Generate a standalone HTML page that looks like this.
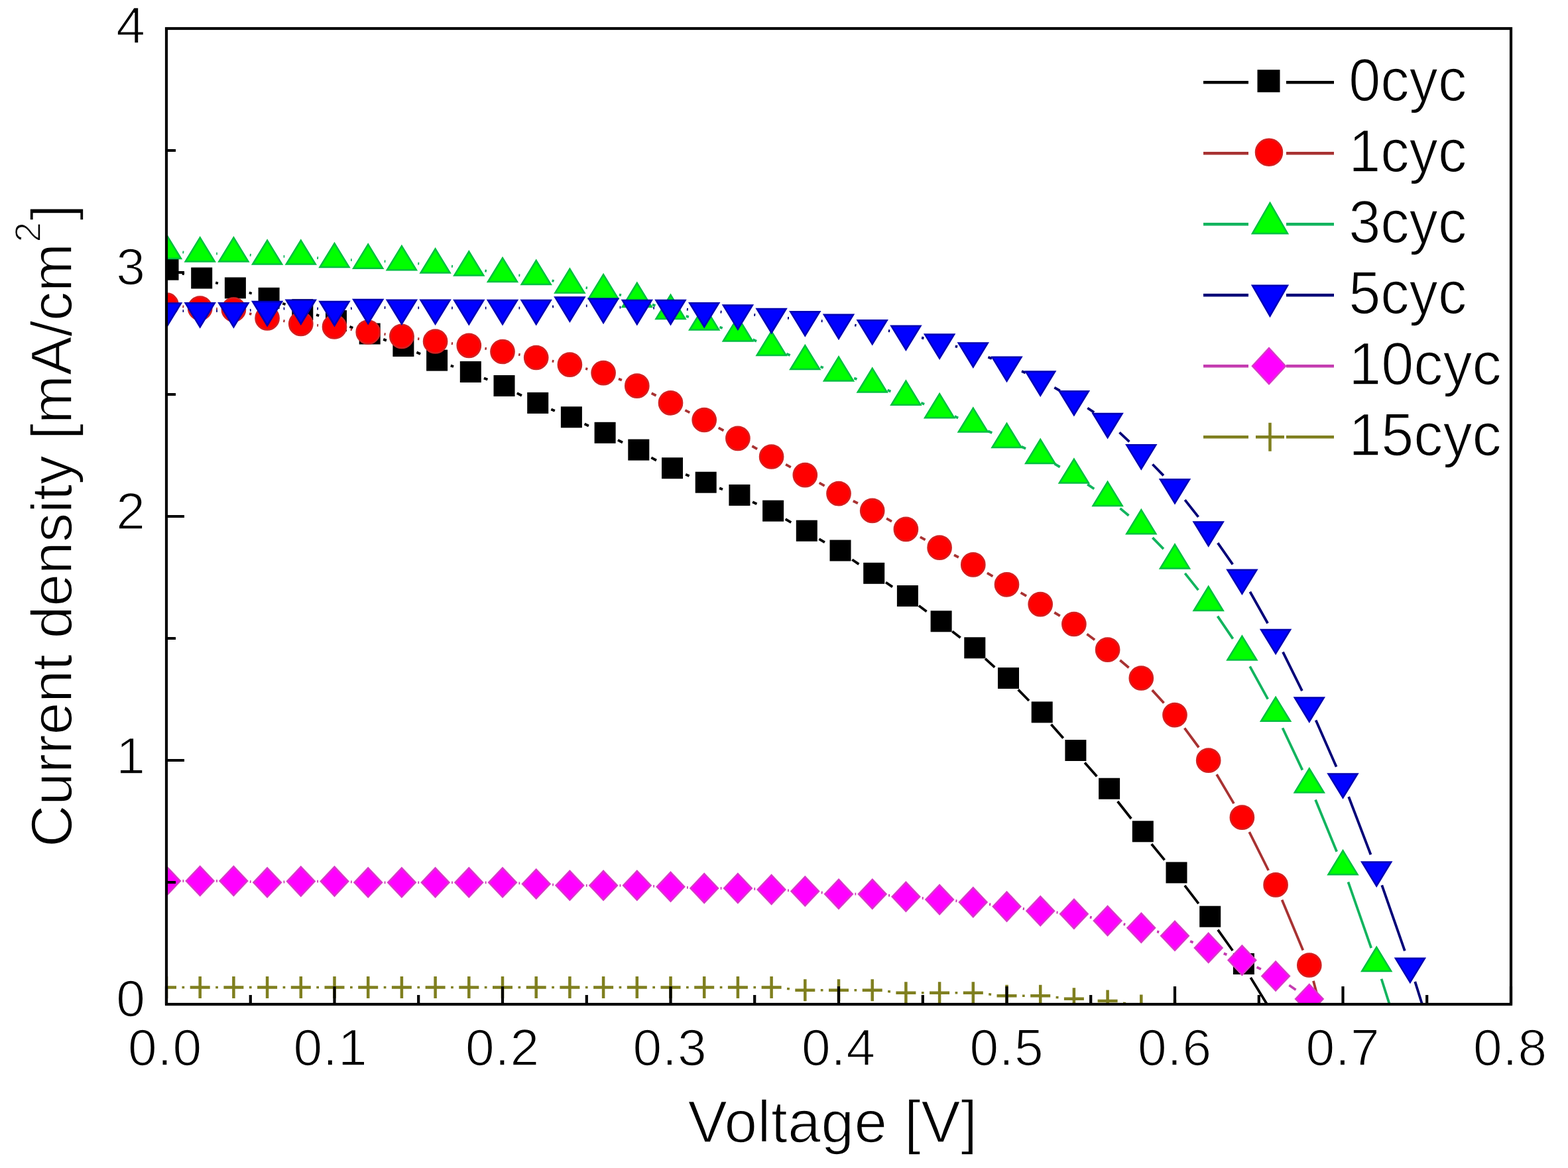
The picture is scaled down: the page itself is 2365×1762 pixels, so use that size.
<!DOCTYPE html><html><head><meta charset="utf-8"><title>J-V curves</title>
<style>html,body{margin:0;padding:0;background:#fff;}svg{display:block;}text{font-family:"Liberation Sans",Arial,sans-serif;fill:#000;stroke:#fff;stroke-width:1.6px;}</style></head><body>
<svg width="2365" height="1762" viewBox="0 0 2365 1762">
<rect width="2365" height="1762" fill="#ffffff"/>
<defs><clipPath id="pa"><rect x="251" y="43" width="2028" height="1472"/></clipPath></defs>
<g clip-path="url(#pa)">
<path d="M274.8 412.7L277.9 413.5M325.2 426.4L328.9 427.5M375.8 441.5L379.7 442.7M426.3 457.8L430.6 459.2M477.1 474.9L481.2 476.3M527.4 492.8L532.3 494.7M578.2 511.9L582.9 513.6M628.4 531.6L634.1 534M679.8 551.6L684.1 553M729.9 570.4L735.4 572.6M779.8 593.1L786.9 596.8M831.3 617.4L836.8 619.8M881.6 639.6L887.9 642.5M931.9 663.9L939 667.5M982.3 690.3L990 694.5M1034.1 715.8L1039.6 718.1M1085.1 736.4L1090 738.2M1135.1 757.3L1141.4 760.3M1184.7 783.2L1193.2 788.2M1235.4 813.1L1243.9 818.1M1285.3 844.2L1295.4 851.1M1336 878.5L1346.1 885.3M1385.9 913.8L1397.6 922.5M1436.3 952.5L1448.6 962.1M1486 993.7L1500.3 1006.6M1535.7 1040.4L1552 1057M1585.4 1092.8L1603.7 1113.6M1636.1 1150.4L1654.4 1171.3M1685.7 1209L1706.2 1235M1736.8 1273.3L1756.5 1297.4M1786.9 1335.9L1807.8 1363.2M1836.9 1402.7L1859.2 1434M1886.3 1474.8L1911.2 1515.2" fill="none" stroke="#000000" stroke-width="3.8" stroke-linecap="butt"/>
<rect x="237.5" y="390.7" width="32" height="32" fill="#000000"/>
<rect x="288.2" y="403.5" width="32" height="32" fill="#000000"/>
<rect x="338.9" y="418.4" width="32" height="32" fill="#000000"/>
<rect x="389.6" y="433.8" width="32" height="32" fill="#000000"/>
<rect x="440.3" y="451.2" width="32" height="32" fill="#000000"/>
<rect x="491" y="468" width="32" height="32" fill="#000000"/>
<rect x="541.7" y="487.5" width="32" height="32" fill="#000000"/>
<rect x="592.4" y="506" width="32" height="32" fill="#000000"/>
<rect x="643.1" y="527.6" width="32" height="32" fill="#000000"/>
<rect x="693.8" y="545" width="32" height="32" fill="#000000"/>
<rect x="744.5" y="566" width="32" height="32" fill="#000000"/>
<rect x="795.2" y="591.9" width="32" height="32" fill="#000000"/>
<rect x="845.9" y="613.3" width="32" height="32" fill="#000000"/>
<rect x="896.6" y="636.8" width="32" height="32" fill="#000000"/>
<rect x="947.3" y="662.6" width="32" height="32" fill="#000000"/>
<rect x="998" y="690.2" width="32" height="32" fill="#000000"/>
<rect x="1048.7" y="711.7" width="32" height="32" fill="#000000"/>
<rect x="1099.4" y="730.9" width="32" height="32" fill="#000000"/>
<rect x="1150.1" y="754.7" width="32" height="32" fill="#000000"/>
<rect x="1200.8" y="784.7" width="32" height="32" fill="#000000"/>
<rect x="1251.5" y="814.5" width="32" height="32" fill="#000000"/>
<rect x="1302.2" y="848.8" width="32" height="32" fill="#000000"/>
<rect x="1352.9" y="883" width="32" height="32" fill="#000000"/>
<rect x="1403.6" y="921.3" width="32" height="32" fill="#000000"/>
<rect x="1454.3" y="961.3" width="32" height="32" fill="#000000"/>
<rect x="1505" y="1007" width="32" height="32" fill="#000000"/>
<rect x="1555.7" y="1058.4" width="32" height="32" fill="#000000"/>
<rect x="1606.4" y="1116" width="32" height="32" fill="#000000"/>
<rect x="1657.1" y="1173.7" width="32" height="32" fill="#000000"/>
<rect x="1707.8" y="1238.3" width="32" height="32" fill="#000000"/>
<rect x="1758.5" y="1300.4" width="32" height="32" fill="#000000"/>
<rect x="1809.2" y="1366.7" width="32" height="32" fill="#000000"/>
<rect x="1859.9" y="1438" width="32" height="32" fill="#000000"/>
<rect x="1910.6" y="1520" width="32" height="32" fill="#000000"/>
<path d="M275.4 462.4L277.3 462.6M326.2 466L327.9 466M376.1 473.1L379.4 473.9M427.3 484.1L429.6 484.4M478.2 490.7L480.1 490.8M528.7 496.8L531 497.2M579.5 504L581.6 504.3M630.1 511L632.4 511.3M680.9 518L683 518.3M731.4 525.7L733.9 526.1M782.1 534.8L784.6 535.2M832.7 544.6L835.4 545.1M883.2 556L886.3 556.8M933 571.4L937.9 573.4M982.7 593.2L989.6 596.8M1033.4 618.9L1040.3 622.4M1083.7 645.3L1091.4 649.5M1134.4 673L1142.1 677.3M1185.1 700.7L1192.8 704.9M1235.7 728.4L1243.6 732.8M1286.8 755.7L1293.9 759.3M1337.1 782.2L1345 786.6M1387.9 810.2L1395.6 814.4M1439 837.3L1445.9 840.8M1488.9 864.3L1497.4 869.4M1539.6 894.2L1548.1 899.2M1590.3 924L1598.8 929.1M1639.4 956.4L1651.1 965.3M1689.3 996L1702.6 1007.2M1737.8 1041.1L1755.5 1060.5M1786.6 1098.3L1808.1 1127.5M1835.1 1168.3L1861 1212.1M1884.3 1255.1L1913.2 1313M1933.6 1357.5L1965.3 1433.4M1981 1479.7L2019.3 1626.3" fill="none" stroke="#a83232" stroke-width="3.8" stroke-linecap="butt"/>
<circle cx="251" cy="460" r="17.6" fill="#ff0000" stroke="#d42020" stroke-width="2.5"/>
<circle cx="301.7" cy="465" r="17.6" fill="#ff0000" stroke="#d42020" stroke-width="2.5"/>
<circle cx="352.4" cy="467" r="17.6" fill="#ff0000" stroke="#d42020" stroke-width="2.5"/>
<circle cx="403.1" cy="480" r="17.6" fill="#ff0000" stroke="#d42020" stroke-width="2.5"/>
<circle cx="453.8" cy="488.5" r="17.6" fill="#ff0000" stroke="#d42020" stroke-width="2.5"/>
<circle cx="504.5" cy="493" r="17.6" fill="#ff0000" stroke="#d42020" stroke-width="2.5"/>
<circle cx="555.2" cy="501" r="17.6" fill="#ff0000" stroke="#d42020" stroke-width="2.5"/>
<circle cx="605.9" cy="507.3" r="17.6" fill="#ff0000" stroke="#d42020" stroke-width="2.5"/>
<circle cx="656.6" cy="515" r="17.6" fill="#ff0000" stroke="#d42020" stroke-width="2.5"/>
<circle cx="707.3" cy="521.3" r="17.6" fill="#ff0000" stroke="#d42020" stroke-width="2.5"/>
<circle cx="758" cy="530.5" r="17.6" fill="#ff0000" stroke="#d42020" stroke-width="2.5"/>
<circle cx="808.7" cy="539.5" r="17.6" fill="#ff0000" stroke="#d42020" stroke-width="2.5"/>
<circle cx="859.4" cy="550.2" r="17.6" fill="#ff0000" stroke="#d42020" stroke-width="2.5"/>
<circle cx="910.1" cy="562.6" r="17.6" fill="#ff0000" stroke="#d42020" stroke-width="2.5"/>
<circle cx="960.8" cy="582.2" r="17.6" fill="#ff0000" stroke="#d42020" stroke-width="2.5"/>
<circle cx="1011.5" cy="607.8" r="17.6" fill="#ff0000" stroke="#d42020" stroke-width="2.5"/>
<circle cx="1062.2" cy="633.5" r="17.6" fill="#ff0000" stroke="#d42020" stroke-width="2.5"/>
<circle cx="1112.9" cy="661.3" r="17.6" fill="#ff0000" stroke="#d42020" stroke-width="2.5"/>
<circle cx="1163.6" cy="689" r="17.6" fill="#ff0000" stroke="#d42020" stroke-width="2.5"/>
<circle cx="1214.3" cy="716.6" r="17.6" fill="#ff0000" stroke="#d42020" stroke-width="2.5"/>
<circle cx="1265" cy="744.6" r="17.6" fill="#ff0000" stroke="#d42020" stroke-width="2.5"/>
<circle cx="1315.7" cy="770.4" r="17.6" fill="#ff0000" stroke="#d42020" stroke-width="2.5"/>
<circle cx="1366.4" cy="798.4" r="17.6" fill="#ff0000" stroke="#d42020" stroke-width="2.5"/>
<circle cx="1417.1" cy="826.2" r="17.6" fill="#ff0000" stroke="#d42020" stroke-width="2.5"/>
<circle cx="1467.8" cy="851.9" r="17.6" fill="#ff0000" stroke="#d42020" stroke-width="2.5"/>
<circle cx="1518.5" cy="881.8" r="17.6" fill="#ff0000" stroke="#d42020" stroke-width="2.5"/>
<circle cx="1569.2" cy="911.6" r="17.6" fill="#ff0000" stroke="#d42020" stroke-width="2.5"/>
<circle cx="1619.9" cy="941.5" r="17.6" fill="#ff0000" stroke="#d42020" stroke-width="2.5"/>
<circle cx="1670.6" cy="980.2" r="17.6" fill="#ff0000" stroke="#d42020" stroke-width="2.5"/>
<circle cx="1721.3" cy="1023" r="17.6" fill="#ff0000" stroke="#d42020" stroke-width="2.5"/>
<circle cx="1772" cy="1078.6" r="17.6" fill="#ff0000" stroke="#d42020" stroke-width="2.5"/>
<circle cx="1822.7" cy="1147.2" r="17.6" fill="#ff0000" stroke="#d42020" stroke-width="2.5"/>
<circle cx="1873.4" cy="1233.2" r="17.6" fill="#ff0000" stroke="#d42020" stroke-width="2.5"/>
<circle cx="1924.1" cy="1334.9" r="17.6" fill="#ff0000" stroke="#d42020" stroke-width="2.5"/>
<circle cx="1974.8" cy="1456" r="17.6" fill="#ff0000" stroke="#d42020" stroke-width="2.5"/>
<circle cx="2025.5" cy="1650" r="17.6" fill="#ff0000" stroke="#d42020" stroke-width="2.5"/>
<path d="M275.4 380.4L277.3 380.6M326.2 382.7L327.9 382.7M376.8 384.7L378.7 384.9M427.6 386.9L429.3 386.9M478.2 389.1L480.1 389.2M529 392.2L530.7 392.2M579.7 394.2L581.4 394.3M630.3 397.6L632.2 397.7M681 401.7L682.9 401.9M731.4 408.4L733.9 408.8M782.4 415.3L784.3 415.4M832.5 423.3L835.6 424M883.6 434.1L885.9 434.4M933.9 444.5L937 445.3M983.9 459.5L988.4 461.1M1034.8 476.9L1038.9 478.2M1085.4 493.5L1089.7 495M1135.4 512.3L1141.1 514.7M1186.2 533.7L1191.7 536M1237.5 553.3L1241.8 554.8M1288.2 570.6L1292.5 572M1338.6 588.5L1343.5 590.4M1389.3 607.8L1394.2 609.7M1439.7 628L1445.2 630.4M1490 650.2L1496.3 653M1540.6 673.8L1547.1 676.8M1590.4 699.7L1598.7 704.5M1640.2 730.6L1650.3 737.5M1689.4 766.9L1702.5 777.8M1738.4 811.1L1754.9 828.1M1787.3 864.9L1807.4 890.1M1836.5 929.6L1859.6 963.6M1885.2 1005.4L1912.3 1054.6M1934.5 1098.3L1964.4 1161.6M1984.1 1206.5L2016.2 1284.8M2033.5 1330.6L2068.2 1430.2M2083.6 1476.7L2119.5 1589.9" fill="none" stroke="#12b45e" stroke-width="3.8" stroke-linecap="butt"/>
<polygon points="251,354 273,390 229,390" fill="#00ff00" stroke="#00c040" stroke-width="2.5" stroke-linejoin="miter"/>
<polygon points="301.7,358.4 323.7,394.4 279.7,394.4" fill="#00ff00" stroke="#00c040" stroke-width="2.5" stroke-linejoin="miter"/>
<polygon points="352.4,358.4 374.4,394.4 330.4,394.4" fill="#00ff00" stroke="#00c040" stroke-width="2.5" stroke-linejoin="miter"/>
<polygon points="403.1,362.6 425.1,398.6 381.1,398.6" fill="#00ff00" stroke="#00c040" stroke-width="2.5" stroke-linejoin="miter"/>
<polygon points="453.8,362.6 475.8,398.6 431.8,398.6" fill="#00ff00" stroke="#00c040" stroke-width="2.5" stroke-linejoin="miter"/>
<polygon points="504.5,367.1 526.5,403.1 482.5,403.1" fill="#00ff00" stroke="#00c040" stroke-width="2.5" stroke-linejoin="miter"/>
<polygon points="555.2,368.7 577.2,404.7 533.2,404.7" fill="#00ff00" stroke="#00c040" stroke-width="2.5" stroke-linejoin="miter"/>
<polygon points="605.9,371.2 627.9,407.2 583.9,407.2" fill="#00ff00" stroke="#00c040" stroke-width="2.5" stroke-linejoin="miter"/>
<polygon points="656.6,375.5 678.6,411.5 634.6,411.5" fill="#00ff00" stroke="#00c040" stroke-width="2.5" stroke-linejoin="miter"/>
<polygon points="707.3,379.5 729.3,415.5 685.3,415.5" fill="#00ff00" stroke="#00c040" stroke-width="2.5" stroke-linejoin="miter"/>
<polygon points="758,389.1 780,425.1 736,425.1" fill="#00ff00" stroke="#00c040" stroke-width="2.5" stroke-linejoin="miter"/>
<polygon points="808.7,393 830.7,429 786.7,429" fill="#00ff00" stroke="#00c040" stroke-width="2.5" stroke-linejoin="miter"/>
<polygon points="859.4,405.7 881.4,441.7 837.4,441.7" fill="#00ff00" stroke="#00c040" stroke-width="2.5" stroke-linejoin="miter"/>
<polygon points="910.1,414.2 932.1,450.2 888.1,450.2" fill="#00ff00" stroke="#00c040" stroke-width="2.5" stroke-linejoin="miter"/>
<polygon points="960.8,427 982.8,463 938.8,463" fill="#00ff00" stroke="#00c040" stroke-width="2.5" stroke-linejoin="miter"/>
<polygon points="1011.5,445 1033.5,481 989.5,481" fill="#00ff00" stroke="#00c040" stroke-width="2.5" stroke-linejoin="miter"/>
<polygon points="1062.2,461.5 1084.2,497.5 1040.2,497.5" fill="#00ff00" stroke="#00c040" stroke-width="2.5" stroke-linejoin="miter"/>
<polygon points="1112.9,478.4 1134.9,514.4 1090.9,514.4" fill="#00ff00" stroke="#00c040" stroke-width="2.5" stroke-linejoin="miter"/>
<polygon points="1163.6,500 1185.6,536 1141.6,536" fill="#00ff00" stroke="#00c040" stroke-width="2.5" stroke-linejoin="miter"/>
<polygon points="1214.3,521.1 1236.3,557.1 1192.3,557.1" fill="#00ff00" stroke="#00c040" stroke-width="2.5" stroke-linejoin="miter"/>
<polygon points="1265,538.4 1287,574.4 1243,574.4" fill="#00ff00" stroke="#00c040" stroke-width="2.5" stroke-linejoin="miter"/>
<polygon points="1315.7,555.6 1337.7,591.6 1293.7,591.6" fill="#00ff00" stroke="#00c040" stroke-width="2.5" stroke-linejoin="miter"/>
<polygon points="1366.4,574.7 1388.4,610.7 1344.4,610.7" fill="#00ff00" stroke="#00c040" stroke-width="2.5" stroke-linejoin="miter"/>
<polygon points="1417.1,594.2 1439.1,630.2 1395.1,630.2" fill="#00ff00" stroke="#00c040" stroke-width="2.5" stroke-linejoin="miter"/>
<polygon points="1467.8,615.6 1489.8,651.6 1445.8,651.6" fill="#00ff00" stroke="#00c040" stroke-width="2.5" stroke-linejoin="miter"/>
<polygon points="1518.5,639 1540.5,675 1496.5,675" fill="#00ff00" stroke="#00c040" stroke-width="2.5" stroke-linejoin="miter"/>
<polygon points="1569.2,663 1591.2,699 1547.2,699" fill="#00ff00" stroke="#00c040" stroke-width="2.5" stroke-linejoin="miter"/>
<polygon points="1619.9,692.6 1641.9,728.6 1597.9,728.6" fill="#00ff00" stroke="#00c040" stroke-width="2.5" stroke-linejoin="miter"/>
<polygon points="1670.6,726.9 1692.6,762.9 1648.6,762.9" fill="#00ff00" stroke="#00c040" stroke-width="2.5" stroke-linejoin="miter"/>
<polygon points="1721.3,769.2 1743.3,805.2 1699.3,805.2" fill="#00ff00" stroke="#00c040" stroke-width="2.5" stroke-linejoin="miter"/>
<polygon points="1772,821.4 1794,857.4 1750,857.4" fill="#00ff00" stroke="#00c040" stroke-width="2.5" stroke-linejoin="miter"/>
<polygon points="1822.7,885 1844.7,921 1800.7,921" fill="#00ff00" stroke="#00c040" stroke-width="2.5" stroke-linejoin="miter"/>
<polygon points="1873.4,959.6 1895.4,995.6 1851.4,995.6" fill="#00ff00" stroke="#00c040" stroke-width="2.5" stroke-linejoin="miter"/>
<polygon points="1924.1,1051.8 1946.1,1087.8 1902.1,1087.8" fill="#00ff00" stroke="#00c040" stroke-width="2.5" stroke-linejoin="miter"/>
<polygon points="1974.8,1159.5 1996.8,1195.5 1952.8,1195.5" fill="#00ff00" stroke="#00c040" stroke-width="2.5" stroke-linejoin="miter"/>
<polygon points="2025.5,1283.2 2047.5,1319.2 2003.5,1319.2" fill="#00ff00" stroke="#00c040" stroke-width="2.5" stroke-linejoin="miter"/>
<polygon points="2076.2,1429 2098.2,1465 2054.2,1465" fill="#00ff00" stroke="#00c040" stroke-width="2.5" stroke-linejoin="miter"/>
<polygon points="2126.9,1589 2148.9,1625 2104.9,1625" fill="#00ff00" stroke="#00c040" stroke-width="2.5" stroke-linejoin="miter"/>
<path d="M275.5 469.1L277.2 469.1M326.2 469L327.9 469M376.9 467.9L378.6 467.8M427.6 465.6L429.3 465.5M478.3 465.5L480 465.6M529 465.3L530.7 465.1M579.7 464L581.4 464.1M630.4 464.4L632.1 464.4M681.1 464.5L682.8 464.6M731.8 464.7L733.5 464.7M782.5 464.7L784.2 464.7M833.1 462.6L835 462.4M883.9 461.4L885.6 461.4M934.6 463.6L936.3 463.6M985.3 464.7L987 464.7M1035.9 466.7L1037.8 466.9M1086.6 470.5L1088.5 470.7M1137.3 474.9L1139.2 475.1M1188 479.8L1189.9 479.9M1238.7 484.2L1240.6 484.3M1289.2 490.5L1291.5 490.9M1339.9 499L1342.2 499.3M1390.1 509.4L1393.4 510.3M1440.8 522.4L1444.1 523.2M1490.4 538.8L1495.9 541M1541 560.1L1546.7 562.6M1590.3 584.6L1598.8 589.5M1640.3 615.5L1650.2 622.1M1688.5 652.4L1703.4 666.3M1738.4 700.5L1754.9 717.4M1787.2 754.1L1807.5 779.9M1836.8 819.2L1859.3 851.3M1885.4 892.8L1912.1 940.2M1935 983.6L1963.9 1042.2M1984.7 1086.6L2015.6 1156.7M2034.2 1202L2067.5 1289.3M2084.3 1335.3L2118.8 1434.4M2134.3 1480.9L2170.2 1595.3" fill="none" stroke="#000078" stroke-width="3.8" stroke-linecap="butt"/>
<polygon points="229,457.5 273,457.5 251,493.5" fill="#0000ff" stroke="#0000b4" stroke-width="2.5" stroke-linejoin="miter"/>
<polygon points="279.7,457.3 323.7,457.3 301.7,493.3" fill="#0000ff" stroke="#0000b4" stroke-width="2.5" stroke-linejoin="miter"/>
<polygon points="330.4,457.3 374.4,457.3 352.4,493.3" fill="#0000ff" stroke="#0000b4" stroke-width="2.5" stroke-linejoin="miter"/>
<polygon points="381.1,455 425.1,455 403.1,491" fill="#0000ff" stroke="#0000b4" stroke-width="2.5" stroke-linejoin="miter"/>
<polygon points="431.8,452.7 475.8,452.7 453.8,488.7" fill="#0000ff" stroke="#0000b4" stroke-width="2.5" stroke-linejoin="miter"/>
<polygon points="482.5,455 526.5,455 504.5,491" fill="#0000ff" stroke="#0000b4" stroke-width="2.5" stroke-linejoin="miter"/>
<polygon points="533.2,452 577.2,452 555.2,488" fill="#0000ff" stroke="#0000b4" stroke-width="2.5" stroke-linejoin="miter"/>
<polygon points="583.9,452.7 627.9,452.7 605.9,488.7" fill="#0000ff" stroke="#0000b4" stroke-width="2.5" stroke-linejoin="miter"/>
<polygon points="634.6,452.7 678.6,452.7 656.6,488.7" fill="#0000ff" stroke="#0000b4" stroke-width="2.5" stroke-linejoin="miter"/>
<polygon points="685.3,453 729.3,453 707.3,489" fill="#0000ff" stroke="#0000b4" stroke-width="2.5" stroke-linejoin="miter"/>
<polygon points="736,453 780,453 758,489" fill="#0000ff" stroke="#0000b4" stroke-width="2.5" stroke-linejoin="miter"/>
<polygon points="786.7,453 830.7,453 808.7,489" fill="#0000ff" stroke="#0000b4" stroke-width="2.5" stroke-linejoin="miter"/>
<polygon points="837.4,448.6 881.4,448.6 859.4,484.6" fill="#0000ff" stroke="#0000b4" stroke-width="2.5" stroke-linejoin="miter"/>
<polygon points="888.1,450.8 932.1,450.8 910.1,486.8" fill="#0000ff" stroke="#0000b4" stroke-width="2.5" stroke-linejoin="miter"/>
<polygon points="938.8,453 982.8,453 960.8,489" fill="#0000ff" stroke="#0000b4" stroke-width="2.5" stroke-linejoin="miter"/>
<polygon points="989.5,453 1033.5,453 1011.5,489" fill="#0000ff" stroke="#0000b4" stroke-width="2.5" stroke-linejoin="miter"/>
<polygon points="1040.2,457.2 1084.2,457.2 1062.2,493.2" fill="#0000ff" stroke="#0000b4" stroke-width="2.5" stroke-linejoin="miter"/>
<polygon points="1090.9,460.6 1134.9,460.6 1112.9,496.6" fill="#0000ff" stroke="#0000b4" stroke-width="2.5" stroke-linejoin="miter"/>
<polygon points="1141.6,466 1185.6,466 1163.6,502" fill="#0000ff" stroke="#0000b4" stroke-width="2.5" stroke-linejoin="miter"/>
<polygon points="1192.3,470.3 1236.3,470.3 1214.3,506.3" fill="#0000ff" stroke="#0000b4" stroke-width="2.5" stroke-linejoin="miter"/>
<polygon points="1243,474.8 1287,474.8 1265,510.8" fill="#0000ff" stroke="#0000b4" stroke-width="2.5" stroke-linejoin="miter"/>
<polygon points="1293.7,483.2 1337.7,483.2 1315.7,519.2" fill="#0000ff" stroke="#0000b4" stroke-width="2.5" stroke-linejoin="miter"/>
<polygon points="1344.4,491.7 1388.4,491.7 1366.4,527.7" fill="#0000ff" stroke="#0000b4" stroke-width="2.5" stroke-linejoin="miter"/>
<polygon points="1395.1,504.6 1439.1,504.6 1417.1,540.6" fill="#0000ff" stroke="#0000b4" stroke-width="2.5" stroke-linejoin="miter"/>
<polygon points="1445.8,517.6 1489.8,517.6 1467.8,553.6" fill="#0000ff" stroke="#0000b4" stroke-width="2.5" stroke-linejoin="miter"/>
<polygon points="1496.5,538.8 1540.5,538.8 1518.5,574.8" fill="#0000ff" stroke="#0000b4" stroke-width="2.5" stroke-linejoin="miter"/>
<polygon points="1547.2,560.5 1591.2,560.5 1569.2,596.5" fill="#0000ff" stroke="#0000b4" stroke-width="2.5" stroke-linejoin="miter"/>
<polygon points="1597.9,590.2 1641.9,590.2 1619.9,626.2" fill="#0000ff" stroke="#0000b4" stroke-width="2.5" stroke-linejoin="miter"/>
<polygon points="1648.6,624 1692.6,624 1670.6,660" fill="#0000ff" stroke="#0000b4" stroke-width="2.5" stroke-linejoin="miter"/>
<polygon points="1699.3,671.3 1743.3,671.3 1721.3,707.3" fill="#0000ff" stroke="#0000b4" stroke-width="2.5" stroke-linejoin="miter"/>
<polygon points="1750,723.2 1794,723.2 1772,759.2" fill="#0000ff" stroke="#0000b4" stroke-width="2.5" stroke-linejoin="miter"/>
<polygon points="1800.7,787.4 1844.7,787.4 1822.7,823.4" fill="#0000ff" stroke="#0000b4" stroke-width="2.5" stroke-linejoin="miter"/>
<polygon points="1851.4,859.7 1895.4,859.7 1873.4,895.7" fill="#0000ff" stroke="#0000b4" stroke-width="2.5" stroke-linejoin="miter"/>
<polygon points="1902.1,949.9 1946.1,949.9 1924.1,985.9" fill="#0000ff" stroke="#0000b4" stroke-width="2.5" stroke-linejoin="miter"/>
<polygon points="1952.8,1052.5 1996.8,1052.5 1974.8,1088.5" fill="#0000ff" stroke="#0000b4" stroke-width="2.5" stroke-linejoin="miter"/>
<polygon points="2003.5,1167.4 2047.5,1167.4 2025.5,1203.4" fill="#0000ff" stroke="#0000b4" stroke-width="2.5" stroke-linejoin="miter"/>
<polygon points="2054.2,1300.5 2098.2,1300.5 2076.2,1336.5" fill="#0000ff" stroke="#0000b4" stroke-width="2.5" stroke-linejoin="miter"/>
<polygon points="2104.9,1445.8 2148.9,1445.8 2126.9,1481.8" fill="#0000ff" stroke="#0000b4" stroke-width="2.5" stroke-linejoin="miter"/>
<polygon points="2155.6,1607 2199.6,1607 2177.6,1643" fill="#0000ff" stroke="#0000b4" stroke-width="2.5" stroke-linejoin="miter"/>
<path d="M275.5 1329L277.2 1329M326.2 1329L327.9 1329M376.9 1330.1L378.6 1330.2M427.6 1330.5L429.3 1330.4M478.3 1329.6L480 1329.6M529 1330.4L530.7 1330.5M579.7 1331.3L581.4 1331.3M630.4 1331.3L632.1 1331.3M681.1 1331.3L682.8 1331.3M731.8 1331.3L733.5 1331.3M782.5 1332.4L784.2 1332.4M833.2 1334.6L834.9 1334.7M883.9 1335.8L885.6 1335.8M934.6 1335.8L936.3 1335.8M985.3 1336.8L987 1336.8M1036 1338.9L1037.7 1338.9M1086.7 1340L1088.4 1340M1137.4 1341L1139.1 1341M1188.1 1343.2L1189.8 1343.3M1238.7 1346.5L1240.6 1346.7M1289.5 1348.7L1291.2 1348.7M1340.1 1350.7L1342 1350.8M1390.8 1354.9L1392.7 1355M1441.5 1359L1443.4 1359.2M1492.1 1364.2L1494.2 1364.5M1542.8 1370.8L1544.9 1371.1M1593.6 1376.4L1595.5 1376.6M1643.9 1383.6L1646.6 1384.2M1694.6 1394.1L1697.3 1394.7M1745.1 1405.4L1748.2 1406.1M1795.1 1420L1799.6 1421.7M1845.7 1438.4L1850.4 1440.1M1895.6 1459L1901.9 1462.1M1944.4 1486.3L1954.5 1493.2M1991.7 1524.7L2008.6 1542.3" fill="none" stroke="#c43cb0" stroke-width="3.8" stroke-linecap="butt"/>
<polygon points="251,1307 271.8,1329 251,1351 230.2,1329" fill="#ff00ff" stroke="#d838c8" stroke-width="2.5"/>
<polygon points="301.7,1307 322.4,1329 301.7,1351 280.9,1329" fill="#ff00ff" stroke="#d838c8" stroke-width="2.5"/>
<polygon points="352.4,1307 373.1,1329 352.4,1351 331.6,1329" fill="#ff00ff" stroke="#d838c8" stroke-width="2.5"/>
<polygon points="403.1,1309.3 423.9,1331.3 403.1,1353.3 382.4,1331.3" fill="#ff00ff" stroke="#d838c8" stroke-width="2.5"/>
<polygon points="453.8,1307.6 474.6,1329.6 453.8,1351.6 433.1,1329.6" fill="#ff00ff" stroke="#d838c8" stroke-width="2.5"/>
<polygon points="504.5,1307.6 525.2,1329.6 504.5,1351.6 483.8,1329.6" fill="#ff00ff" stroke="#d838c8" stroke-width="2.5"/>
<polygon points="555.2,1309.3 576,1331.3 555.2,1353.3 534.5,1331.3" fill="#ff00ff" stroke="#d838c8" stroke-width="2.5"/>
<polygon points="605.9,1309.3 626.7,1331.3 605.9,1353.3 585.2,1331.3" fill="#ff00ff" stroke="#d838c8" stroke-width="2.5"/>
<polygon points="656.6,1309.3 677.4,1331.3 656.6,1353.3 635.9,1331.3" fill="#ff00ff" stroke="#d838c8" stroke-width="2.5"/>
<polygon points="707.3,1309.3 728,1331.3 707.3,1353.3 686.5,1331.3" fill="#ff00ff" stroke="#d838c8" stroke-width="2.5"/>
<polygon points="758,1309.3 778.8,1331.3 758,1353.3 737.2,1331.3" fill="#ff00ff" stroke="#d838c8" stroke-width="2.5"/>
<polygon points="808.7,1311.5 829.5,1333.5 808.7,1355.5 788,1333.5" fill="#ff00ff" stroke="#d838c8" stroke-width="2.5"/>
<polygon points="859.4,1313.8 880.1,1335.8 859.4,1357.8 838.6,1335.8" fill="#ff00ff" stroke="#d838c8" stroke-width="2.5"/>
<polygon points="910.1,1313.8 930.9,1335.8 910.1,1357.8 889.4,1335.8" fill="#ff00ff" stroke="#d838c8" stroke-width="2.5"/>
<polygon points="960.8,1313.8 981.6,1335.8 960.8,1357.8 940.1,1335.8" fill="#ff00ff" stroke="#d838c8" stroke-width="2.5"/>
<polygon points="1011.5,1315.8 1032.2,1337.8 1011.5,1359.8 990.8,1337.8" fill="#ff00ff" stroke="#d838c8" stroke-width="2.5"/>
<polygon points="1062.2,1318 1083,1340 1062.2,1362 1041.5,1340" fill="#ff00ff" stroke="#d838c8" stroke-width="2.5"/>
<polygon points="1112.9,1318 1133.7,1340 1112.9,1362 1092.2,1340" fill="#ff00ff" stroke="#d838c8" stroke-width="2.5"/>
<polygon points="1163.6,1320 1184.3,1342 1163.6,1364 1142.8,1342" fill="#ff00ff" stroke="#d838c8" stroke-width="2.5"/>
<polygon points="1214.3,1322.5 1235,1344.5 1214.3,1366.5 1193.5,1344.5" fill="#ff00ff" stroke="#d838c8" stroke-width="2.5"/>
<polygon points="1265,1326.7 1285.8,1348.7 1265,1370.7 1244.2,1348.7" fill="#ff00ff" stroke="#d838c8" stroke-width="2.5"/>
<polygon points="1315.7,1326.7 1336.5,1348.7 1315.7,1370.7 1295,1348.7" fill="#ff00ff" stroke="#d838c8" stroke-width="2.5"/>
<polygon points="1366.4,1330.8 1387.2,1352.8 1366.4,1374.8 1345.7,1352.8" fill="#ff00ff" stroke="#d838c8" stroke-width="2.5"/>
<polygon points="1417.1,1335.1 1437.9,1357.1 1417.1,1379.1 1396.4,1357.1" fill="#ff00ff" stroke="#d838c8" stroke-width="2.5"/>
<polygon points="1467.8,1339.1 1488.5,1361.1 1467.8,1383.1 1447,1361.1" fill="#ff00ff" stroke="#d838c8" stroke-width="2.5"/>
<polygon points="1518.5,1345.6 1539.2,1367.6 1518.5,1389.6 1497.8,1367.6" fill="#ff00ff" stroke="#d838c8" stroke-width="2.5"/>
<polygon points="1569.2,1352.3 1590,1374.3 1569.2,1396.3 1548.5,1374.3" fill="#ff00ff" stroke="#d838c8" stroke-width="2.5"/>
<polygon points="1619.9,1356.7 1640.7,1378.7 1619.9,1400.7 1599.2,1378.7" fill="#ff00ff" stroke="#d838c8" stroke-width="2.5"/>
<polygon points="1670.6,1367.1 1691.4,1389.1 1670.6,1411.1 1649.9,1389.1" fill="#ff00ff" stroke="#d838c8" stroke-width="2.5"/>
<polygon points="1721.3,1377.7 1742,1399.7 1721.3,1421.7 1700.5,1399.7" fill="#ff00ff" stroke="#d838c8" stroke-width="2.5"/>
<polygon points="1772,1389.8 1792.8,1411.8 1772,1433.8 1751.2,1411.8" fill="#ff00ff" stroke="#d838c8" stroke-width="2.5"/>
<polygon points="1822.7,1407.9 1843.5,1429.9 1822.7,1451.9 1802,1429.9" fill="#ff00ff" stroke="#d838c8" stroke-width="2.5"/>
<polygon points="1873.4,1426.6 1894.2,1448.6 1873.4,1470.6 1852.7,1448.6" fill="#ff00ff" stroke="#d838c8" stroke-width="2.5"/>
<polygon points="1924.1,1450.5 1944.9,1472.5 1924.1,1494.5 1903.4,1472.5" fill="#ff00ff" stroke="#d838c8" stroke-width="2.5"/>
<polygon points="1974.8,1485 1995.6,1507 1974.8,1529 1954.1,1507" fill="#ff00ff" stroke="#d838c8" stroke-width="2.5"/>
<polygon points="2025.5,1538 2046.3,1560 2025.5,1582 2004.8,1560" fill="#ff00ff" stroke="#d838c8" stroke-width="2.5"/>
<path d="M274.5 1489.6L278.2 1489.6M325.2 1489.6L328.9 1489.6M375.9 1489.6L379.6 1489.6M426.6 1489.6L430.3 1489.6M477.3 1489.6L481 1489.6M528 1489.6L531.7 1489.6M578.7 1489.6L582.4 1489.6M629.4 1489.6L633.1 1489.6M680.1 1489.6L683.8 1489.6M730.8 1489.6L734.5 1489.6M781.5 1489.6L785.2 1489.6M832.2 1489.6L835.9 1489.6M882.9 1489.6L886.6 1489.6M933.6 1489.6L937.3 1489.6M984.3 1489.6L988 1489.6M1035 1489.6L1038.7 1489.6M1085.7 1489.6L1089.4 1489.6M1136.4 1489.6L1140.1 1489.6M1187 1491.5L1190.9 1491.8M1237.8 1493.7L1241.5 1493.7M1288.5 1493.7L1292.2 1493.7M1339.1 1495.5L1343 1495.9M1389.9 1497.7L1393.6 1497.7M1440.6 1497.7L1444.3 1497.7M1491.2 1499.8L1495.1 1500.2M1542 1502.3L1545.7 1502.3M1592.6 1504.4L1596.5 1504.7M1643.4 1508.3L1647.1 1508.5M1693.9 1513.2L1698 1513.8M1744.5 1520.7L1748.8 1521.3M1795.1 1529.5L1799.6 1530.5" fill="none" stroke="#7f7f1f" stroke-width="3.5" stroke-linecap="butt"/>
<path d="M236 1489.6H266M251 1473.1V1506.1" stroke="#7f7f1f" stroke-width="4.5" fill="none"/>
<path d="M286.7 1489.6H316.7M301.7 1473.1V1506.1" stroke="#7f7f1f" stroke-width="4.5" fill="none"/>
<path d="M337.4 1489.6H367.4M352.4 1473.1V1506.1" stroke="#7f7f1f" stroke-width="4.5" fill="none"/>
<path d="M388.1 1489.6H418.1M403.1 1473.1V1506.1" stroke="#7f7f1f" stroke-width="4.5" fill="none"/>
<path d="M438.8 1489.6H468.8M453.8 1473.1V1506.1" stroke="#7f7f1f" stroke-width="4.5" fill="none"/>
<path d="M489.5 1489.6H519.5M504.5 1473.1V1506.1" stroke="#7f7f1f" stroke-width="4.5" fill="none"/>
<path d="M540.2 1489.6H570.2M555.2 1473.1V1506.1" stroke="#7f7f1f" stroke-width="4.5" fill="none"/>
<path d="M590.9 1489.6H620.9M605.9 1473.1V1506.1" stroke="#7f7f1f" stroke-width="4.5" fill="none"/>
<path d="M641.6 1489.6H671.6M656.6 1473.1V1506.1" stroke="#7f7f1f" stroke-width="4.5" fill="none"/>
<path d="M692.3 1489.6H722.3M707.3 1473.1V1506.1" stroke="#7f7f1f" stroke-width="4.5" fill="none"/>
<path d="M743 1489.6H773M758 1473.1V1506.1" stroke="#7f7f1f" stroke-width="4.5" fill="none"/>
<path d="M793.7 1489.6H823.7M808.7 1473.1V1506.1" stroke="#7f7f1f" stroke-width="4.5" fill="none"/>
<path d="M844.4 1489.6H874.4M859.4 1473.1V1506.1" stroke="#7f7f1f" stroke-width="4.5" fill="none"/>
<path d="M895.1 1489.6H925.1M910.1 1473.1V1506.1" stroke="#7f7f1f" stroke-width="4.5" fill="none"/>
<path d="M945.8 1489.6H975.8M960.8 1473.1V1506.1" stroke="#7f7f1f" stroke-width="4.5" fill="none"/>
<path d="M996.5 1489.6H1026.5M1011.5 1473.1V1506.1" stroke="#7f7f1f" stroke-width="4.5" fill="none"/>
<path d="M1047.2 1489.6H1077.2M1062.2 1473.1V1506.1" stroke="#7f7f1f" stroke-width="4.5" fill="none"/>
<path d="M1097.9 1489.6H1127.9M1112.9 1473.1V1506.1" stroke="#7f7f1f" stroke-width="4.5" fill="none"/>
<path d="M1148.6 1489.6H1178.6M1163.6 1473.1V1506.1" stroke="#7f7f1f" stroke-width="4.5" fill="none"/>
<path d="M1199.3 1493.7H1229.3M1214.3 1477.2V1510.2" stroke="#7f7f1f" stroke-width="4.5" fill="none"/>
<path d="M1250 1493.7H1280M1265 1477.2V1510.2" stroke="#7f7f1f" stroke-width="4.5" fill="none"/>
<path d="M1300.7 1493.7H1330.7M1315.7 1477.2V1510.2" stroke="#7f7f1f" stroke-width="4.5" fill="none"/>
<path d="M1351.4 1497.7H1381.4M1366.4 1481.2V1514.2" stroke="#7f7f1f" stroke-width="4.5" fill="none"/>
<path d="M1402.1 1497.7H1432.1M1417.1 1481.2V1514.2" stroke="#7f7f1f" stroke-width="4.5" fill="none"/>
<path d="M1452.8 1497.7H1482.8M1467.8 1481.2V1514.2" stroke="#7f7f1f" stroke-width="4.5" fill="none"/>
<path d="M1503.5 1502.3H1533.5M1518.5 1485.8V1518.8" stroke="#7f7f1f" stroke-width="4.5" fill="none"/>
<path d="M1554.2 1502.3H1584.2M1569.2 1485.8V1518.8" stroke="#7f7f1f" stroke-width="4.5" fill="none"/>
<path d="M1604.9 1506.8H1634.9M1619.9 1490.3V1523.3" stroke="#7f7f1f" stroke-width="4.5" fill="none"/>
<path d="M1655.6 1510H1685.6M1670.6 1493.5V1526.5" stroke="#7f7f1f" stroke-width="4.5" fill="none"/>
<path d="M1706.3 1517H1736.3M1721.3 1500.5V1533.5" stroke="#7f7f1f" stroke-width="4.5" fill="none"/>
<path d="M1757 1525H1787M1772 1508.5V1541.5" stroke="#7f7f1f" stroke-width="4.5" fill="none"/>
<path d="M1807.7 1535H1837.7M1822.7 1518.5V1551.5" stroke="#7f7f1f" stroke-width="4.5" fill="none"/>
</g>
<rect x="251" y="43" width="2028" height="1472" fill="none" stroke="#000" stroke-width="4.2"/>
<path d="M251 1515V1488M377.8 1515V1501M504.5 1515V1488M631.2 1515V1501M758 1515V1488M884.8 1515V1501M1011.5 1515V1488M1138.2 1515V1501M1265 1515V1488M1391.8 1515V1501M1518.5 1515V1488M1645.2 1515V1501M1772 1515V1488M1898.8 1515V1501M2025.5 1515V1488M2152.2 1515V1501M2279 1515V1488M251 1515H278M251 1331H265M251 1147H278M251 963H265M251 779H278M251 595H265M251 411H278M251 227H265M251 43H278" stroke="#000" stroke-width="4.2" fill="none"/>
<text x="249" y="1606.5" font-size="78.5" letter-spacing="1" text-anchor="middle">0.0</text>
<text x="498.5" y="1606.5" font-size="78.5" letter-spacing="1" text-anchor="middle">0.1</text>
<text x="758" y="1606.5" font-size="78.5" letter-spacing="1" text-anchor="middle">0.2</text>
<text x="1010.5" y="1606.5" font-size="78.5" letter-spacing="1" text-anchor="middle">0.3</text>
<text x="1265" y="1606.5" font-size="78.5" letter-spacing="1" text-anchor="middle">0.4</text>
<text x="1518.5" y="1606.5" font-size="78.5" letter-spacing="1" text-anchor="middle">0.5</text>
<text x="1772" y="1606.5" font-size="78.5" letter-spacing="1" text-anchor="middle">0.6</text>
<text x="2025.5" y="1606.5" font-size="78.5" letter-spacing="1" text-anchor="middle">0.7</text>
<text x="2278" y="1606.5" font-size="78.5" letter-spacing="1" text-anchor="middle">0.8</text>
<text x="219" y="1533.2" font-size="78.5" text-anchor="end">0</text>
<text x="219" y="1166.5" font-size="78.5" text-anchor="end">1</text>
<text x="219" y="798" font-size="78.5" text-anchor="end">2</text>
<text x="219" y="429.2" font-size="78.5" text-anchor="end">3</text>
<text x="219" y="65.2" font-size="78.5" text-anchor="end">4</text>
<text x="1256" y="1723" font-size="89" letter-spacing="0.6" text-anchor="middle">Voltage [V]</text>
<text transform="translate(107.5 1278) rotate(-90)" font-size="88" letter-spacing="-0.4">Current density [mA/cm<tspan font-size="55" dy="-47" dx="2">2</tspan><tspan dy="47" dx="2.5">]</tspan></text>
<path d="M1815 124.2H1883M1940 124.2H2012" stroke="#000000" stroke-width="4.5" fill="none"/>
<rect x="1896.5" y="105.2" width="34" height="34" fill="#000000"/>
<text x="2034.2" y="151.6" font-size="90.5" textLength="178" lengthAdjust="spacingAndGlyphs">0cyc</text>
<path d="M1815 231.2H1883M1940 231.2H2012" stroke="#a83232" stroke-width="4.5" fill="none"/>
<circle cx="1914" cy="229.7" r="20" fill="#ff0000" stroke="#d42020" stroke-width="2.5"/>
<text x="2034.2" y="258.6" font-size="90.5" textLength="178" lengthAdjust="spacingAndGlyphs">1cyc</text>
<path d="M1815 338.2H1883M1940 338.2H2012" stroke="#12b45e" stroke-width="4.5" fill="none"/>
<polygon points="1915.5,306.2 1942,352.2 1889,352.2" fill="#00ff00" stroke="#00c040" stroke-width="2.5" stroke-linejoin="miter"/>
<text x="2034.2" y="365.6" font-size="90.5" textLength="178" lengthAdjust="spacingAndGlyphs">3cyc</text>
<path d="M1815 445.2H1883M1940 445.2H2012" stroke="#000078" stroke-width="4.5" fill="none"/>
<polygon points="1889,430.7 1942,430.7 1915.5,476.7" fill="#0000ff" stroke="#0000b4" stroke-width="2.5" stroke-linejoin="miter"/>
<text x="2034.2" y="472.6" font-size="90.5" textLength="178" lengthAdjust="spacingAndGlyphs">5cyc</text>
<path d="M1815 552.2H1883M1940 552.2H2012" stroke="#c43cb0" stroke-width="4.5" fill="none"/>
<polygon points="1914,525.2 1939,552.2 1914,579.2 1889,552.2" fill="#ff00ff" stroke="#d838c8" stroke-width="2.5"/>
<text x="2034.2" y="579.6" font-size="90.5" textLength="230.5" lengthAdjust="spacingAndGlyphs">10cyc</text>
<path d="M1815 659.2H1883M1940 659.2H2012" stroke="#7f7f1f" stroke-width="4.5" fill="none"/>
<path d="M1894 659.2H1937M1915.5 637.7V680.7" stroke="#7f7f1f" stroke-width="4.5" fill="none"/>
<text x="2034.2" y="686.6" font-size="90.5" textLength="230.5" lengthAdjust="spacingAndGlyphs">15cyc</text>
</svg></body></html>
